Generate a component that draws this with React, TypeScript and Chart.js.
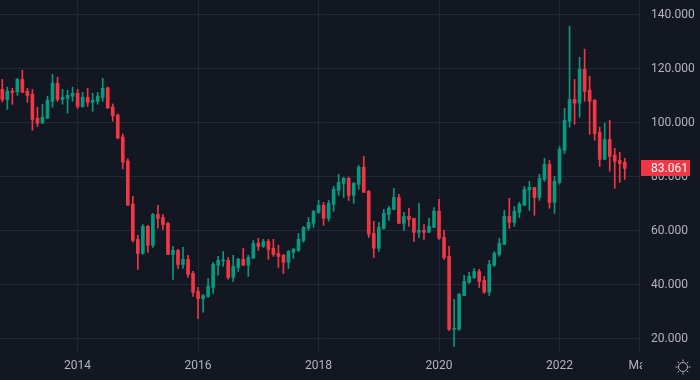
import React, { useEffect, useRef } from "react";
import { Chart, registerables } from "chart.js";

Chart.register(...registerables);

// Monthly candles, Oct 2012 .. Feb 2023
const opens = [
  112.3, 108.6, 111.7,
  111.4, 116.0, 111.6, 110.5, 101.6, 99.8, 101.6, 107.9, 114.6, 108.6, 109.0, 109.8,
  110.9, 106.0, 109.4, 107.5, 107.9, 109.4, 112.9, 105.8, 102.8, 94.7, 85.8, 69.8,
  56.8, 51.6, 61.6, 54.6, 66.0, 64.9, 62.7, 51.2, 52.7, 47.5, 49.4, 44.2,
  37.5, 34.9, 35.7, 39.0, 47.2, 48.8, 49.0, 42.7, 46.4, 49.4, 47.2, 49.8,
  55.3, 54.2, 56.0, 53.5, 51.6, 50.9, 48.3, 52.0, 52.7, 56.4, 60.9, 62.7,
  66.8, 69.4, 64.6, 69.8, 74.9, 77.5, 79.4, 73.1, 77.2, 83.5, 74.6, 59.0,
  53.5, 60.9, 66.0, 67.9, 72.3, 62.7, 65.3, 64.6, 59.4, 60.1, 59.4, 61.2,
  67.2, 57.5, 50.5, 23.5, 23.5, 36.0, 40.9, 42.7, 44.9, 41.6, 37.2, 47.2,
  51.2, 54.9, 65.3, 63.1, 66.8, 69.4, 75.1, 76.0, 72.3, 79.0, 84.6, 70.5,
  77.9, 89.8, 100.5, 108.6, 107.2, 119.8, 112.0, 108.3, 96.4, 86.4, 93.8, 87.9,
  86.0, 85.3,
];
const highs = [
  116.0, 113.1, 112.7,
  116.4, 119.4, 112.7, 112.3, 105.7, 106.8, 109.8, 117.9, 116.8, 112.3, 112.0, 113.1,
  112.3, 111.2, 112.7, 110.9, 111.2, 116.4, 113.2, 106.9, 103.2, 95.8, 86.6, 72.7,
  58.3, 62.3, 62.0, 66.4, 69.4, 66.0, 63.1, 54.2, 53.1, 53.8, 50.9, 45.0,
  39.0, 36.4, 42.3, 48.3, 50.5, 52.3, 50.1, 50.9, 49.8, 53.5, 50.9, 56.4,
  57.2, 56.8, 56.8, 56.8, 54.6, 51.2, 52.7, 53.5, 59.0, 61.6, 64.9, 67.5,
  71.2, 70.5, 71.2, 76.4, 80.9, 79.8, 79.8, 77.9, 84.2, 87.5, 74.9, 63.5,
  63.1, 67.9, 69.0, 75.7, 73.5, 66.8, 68.3, 64.6, 70.1, 62.3, 64.6, 68.6,
  71.6, 60.1, 54.2, 34.6, 36.8, 43.5, 44.6, 46.0, 45.7, 43.1, 49.0, 52.3,
  57.2, 67.5, 72.0, 69.0, 70.5, 76.4, 78.3, 76.0, 80.9, 86.8, 86.0, 80.1,
  91.2, 105.3, 135.7, 116.0, 124.2, 127.2, 117.2, 108.6, 98.3, 99.8, 100.9, 90.5,
  89.0, 86.8,
];
const lows = [
  107.7, 104.9, 106.8,
  110.1, 111.2, 107.5, 97.2, 98.6, 99.8, 101.6, 105.7, 107.9, 106.8, 103.5, 107.9,
  105.3, 105.7, 106.0, 104.2, 106.8, 107.9, 105.4, 100.6, 94.0, 82.9, 69.3, 55.8,
  45.7, 51.2, 52.0, 53.8, 60.9, 60.5, 51.2, 42.0, 46.0, 46.0, 42.7, 35.7,
  27.5, 29.8, 35.3, 36.8, 43.5, 46.8, 42.0, 41.2, 44.9, 47.2, 43.1, 49.8,
  52.7, 53.8, 49.4, 50.5, 46.4, 44.2, 46.0, 49.8, 52.3, 55.7, 60.1, 61.2,
  66.4, 62.0, 63.5, 67.2, 73.1, 72.3, 71.2, 70.1, 75.3, 74.2, 57.5, 50.1,
  52.3, 60.5, 63.8, 67.9, 62.7, 60.1, 61.6, 56.0, 57.5, 56.8, 59.4, 61.2,
  56.8, 49.4, 23.0, 17.2, 23.1, 36.0, 40.5, 42.3, 39.0, 36.8, 36.0, 46.8,
  50.5, 54.9, 60.9, 61.6, 64.9, 69.4, 67.5, 65.7, 71.2, 78.3, 68.3, 66.4,
  77.2, 88.6, 98.3, 99.4, 102.0, 107.9, 95.7, 93.5, 83.8, 86.4, 82.0, 75.7,
  77.9, 79.0,
];
const closes = [
  108.6, 111.6, 111.2,
  116.0, 111.2, 110.0, 101.2, 99.8, 102.0, 108.3, 114.6, 108.6, 109.4, 110.1, 110.9,
  106.0, 109.4, 107.5, 108.3, 109.8, 112.7, 105.4, 102.5, 94.3, 85.4, 69.5, 56.4,
  51.6, 61.6, 54.6, 66.0, 64.6, 62.3, 51.2, 52.7, 47.5, 49.4, 43.8, 37.2,
  34.9, 36.0, 39.4, 47.5, 49.0, 49.1, 42.7, 46.8, 49.4, 47.2, 50.1, 55.3,
  54.2, 56.0, 53.1, 51.2, 50.5, 48.3, 52.3, 53.1, 56.8, 61.2, 63.1, 67.2,
  69.4, 64.6, 70.1, 75.3, 77.9, 79.4, 73.1, 77.5, 83.5, 74.2, 58.7, 53.5,
  61.2, 66.4, 68.3, 72.3, 62.7, 65.3, 64.2, 59.4, 60.1, 59.4, 61.6, 67.2,
  57.2, 50.1, 23.5, 23.8, 36.4, 41.2, 43.1, 44.9, 41.2, 37.2, 47.5, 51.6,
  55.3, 65.3, 63.1, 67.2, 69.8, 75.3, 76.0, 72.3, 79.4, 84.6, 70.5, 78.3,
  90.1, 100.9, 108.6, 107.2, 119.8, 111.6, 107.9, 96.0, 86.4, 93.8, 87.5, 85.7,
  84.9, 83.061,
];

// x-axis ticks: month index from Oct 2012
const xTickValues = [15, 39, 63, 87, 111, 127];
const xTickLabels = ["2014", "2016", "2018", "2020", "2022", "May"];
const yTickValues = [20, 40, 60, 80, 100, 120, 140];
const lastPrice = 83.061;

const UP = "#089981";
const DOWN = "#f23645";
const BG = "#131722";
const GRID = "#242834";
const TEXT = "#b2b5be";

export default function App() {
  const ref = useRef<HTMLCanvasElement | null>(null);

  useEffect(() => {
    document.body.style.margin = "0";
    document.body.style.background = BG;
    const canvas = ref.current;
    if (!canvas) return;
    const colors = opens.map((o, i) => (closes[i] >= o ? UP : DOWN));

    const overlay = {
      id: "overlay",
      beforeDraw(chart: any) {
        const ctx = chart.ctx;
        ctx.save();
        ctx.fillStyle = BG;
        ctx.fillRect(0, 0, chart.width, chart.height);
        ctx.restore();
      },
      afterDraw(chart: any) {
        const ctx = chart.ctx;
        const area = chart.chartArea;
        ctx.save();
        ctx.fillStyle = BG;
        ctx.fillRect(area.right + 1, area.bottom + 1, chart.width - area.right, chart.height - area.bottom);
        const cx = 683, cy = 367;
        ctx.strokeStyle = TEXT;
        ctx.lineWidth = 1;
        ctx.beginPath();
        ctx.arc(cx, cy, 4.5, 0, Math.PI * 2);
        ctx.stroke();
        for (let k = 0; k < 8; k++) {
          const a = (k * Math.PI) / 4;
          ctx.beginPath();
          ctx.moveTo(cx + Math.cos(a) * 5.5, cy + Math.sin(a) * 5.5);
          ctx.lineTo(cx + Math.cos(a) * 7.5, cy + Math.sin(a) * 7.5);
          ctx.stroke();
        }
        const y = chart.scales.y.getPixelForValue(lastPrice);
        ctx.fillStyle = DOWN;
        ctx.fillRect(area.right, Math.round(y) - 8, 49, 16);
        ctx.fillStyle = "#ffffff";
        ctx.font = "12px Roboto";
        ctx.textBaseline = "middle";
        ctx.textAlign = "left";
        ctx.fillText(lastPrice.toFixed(3), area.right + 10, Math.round(y) + 0.5);
        ctx.restore();
      },
    };

    const chart = new Chart(canvas, {
      type: "bar",
      data: {
        datasets: [
          {
            label: "body",
            data: opens.map((o, i) => ({ x: i, y: [o, closes[i]] })) as any,
            backgroundColor: colors,
            borderWidth: 0,
            barThickness: 3,
            minBarLength: 1,
            grouped: false,
          } as any,
          {
            label: "wick",
            data: lows.map((l, i) => ({ x: i, y: [l, highs[i]] })) as any,
            backgroundColor: colors,
            borderWidth: 0,
            barThickness: 1,
            grouped: false,
          } as any,
        ],
      },
      plugins: [overlay],
      options: {
        animation: false,
        responsive: false,
        layout: { padding: 0 },
        plugins: { legend: { display: false }, tooltip: { enabled: false } },
        scales: {
          x: {
            type: "linear",
            min: -0.458,
            max: 127.23,
            offset: false,
            grid: { color: GRID, drawTicks: false, offset: false },
            border: { display: false },
            afterBuildTicks: (s: any) => {
              s.ticks = xTickValues.map((v) => ({ value: v }));
            },
            afterFit: (s: any) => {
              s.height = 28;
              s.paddingLeft = 0;
              s.paddingRight = 0;
              s.paddingTop = 0;
              s.paddingBottom = 0;
            },
            ticks: {
              color: TEXT,
              font: { family: "Roboto", size: 12 },
              padding: 7,
              maxRotation: 0,
              autoSkip: false,
              callback: (v: any) => {
                const k = xTickValues.indexOf(Number(v));
                return k >= 0 ? xTickLabels[k] : "";
              },
            },
          },
          y: {
            type: "linear",
            position: "right",
            min: 15.1,
            max: 145.4,
            grid: { color: GRID, drawTicks: false },
            border: { display: false },
            afterBuildTicks: (s: any) => {
              s.ticks = yTickValues.map((v) => ({ value: v }));
            },
            afterFit: (s: any) => {
              s.width = 59;
              s.paddingTop = 0;
              s.paddingBottom = 0;
              s.paddingLeft = 0;
              s.paddingRight = 0;
            },
            ticks: {
              color: TEXT,
              font: { family: "Roboto", size: 12 },
              padding: 10,
              callback: (v: any) => Number(v).toFixed(3),
            },
          },
        },
      } as any,
    });
    return () => chart.destroy();
  }, []);

  return (
    <canvas
      ref={ref}
      width={700}
      height={380}
      style={{ display: "block", width: 700, height: 380 }}
    />
  );
}
